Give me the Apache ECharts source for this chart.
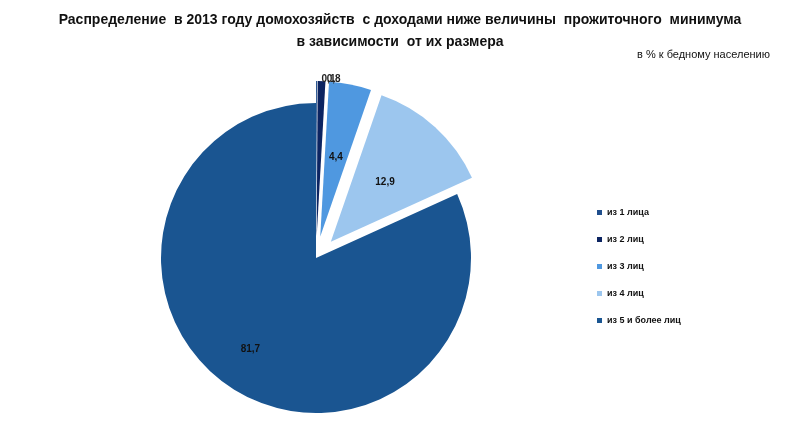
<!DOCTYPE html>
<html lang="ru">
<head>
    <meta charset="UTF-8">
    <title>Распределение домохозяйств</title>
    <script src="https://cdn.jsdelivr.net/npm/echarts@6/dist/echarts.min.js"></script>
    <style>
        body { margin: 0; background: #fff; }
        #chart { width: 800px; height: 422px; }
    </style>
</head>
<body>
    <div id="chart"></div>
    <script>
        const categories = ['из 1 лица', 'из 2 лиц', 'из 3 лиц', 'из 4 лиц', 'из 5 и более лиц'];
        const values = [0.1, 0.8, 4.4, 12.9, 81.7];
        const colors = ['#1f4e8c', '#0c2461', '#4f98e0', '#9cc6ee', '#1a5591'];
        // nudges so the labels sit where the original puts them
        const labelShift = [[-18, -6], [-41, -24], [25, -64], [40, -53], [-22, 24]];

        const chart = echarts.init(document.getElementById('chart'));
        const fmt = v => String(v).replace('.', ',');

        const data = values.map((v, i) => {
            const item = {
                name: categories[i], value: v,
                itemStyle: { color: colors[i] },
                label: { offset: labelShift[i] }
            };
            if (i < 4) item.selected = true;
            if (i < 2) {
                item.label.position = 'outside';
                item.label.color = '#222';
                item.labelLine = { show: false, length: 2, length2: 0 };
            }
            return item;
        });

        chart.setOption({
            title: [
                {
                    text: 'Распределение  в 2013 году домохозяйств  с доходами ниже величины  прожиточного  минимума\nв зависимости  от их размера',
                    left: 'center', top: 4,
                    textStyle: { fontFamily: 'Liberation Sans', fontSize: 14, fontWeight: 'bold', color: '#111', lineHeight: 22, align: 'center' }
                },
                {
                    text: 'в % к бедному населению',
                    right: 25, top: 44,
                    textStyle: { fontFamily: 'Liberation Sans', fontSize: 11, fontWeight: 'normal', color: '#111' }
                }
            ],
            legend: {
                orient: 'vertical',
                left: 592, top: 203,
                itemGap: 18,
                itemWidth: 5, itemHeight: 5,
                icon: 'rect',
                textStyle: { fontFamily: 'Liberation Sans', fontSize: 9, fontWeight: 'bold', color: '#111' },
                data: categories
            },
            series: [{
                type: 'pie',
                center: [316, 258],
                radius: [0, 155],
                startAngle: 90,
                selectedMode: 'multiple',
                selectedOffset: 22,
                animation: false,
                label: {
                    show: true,
                    position: 'inside',
                    formatter: p => fmt(p.value),
                    fontFamily: 'Liberation Sans',
                    fontSize: 10,
                    fontWeight: 'bold',
                    color: '#111'
                },
                emphasis: { disabled: true },
                data: data
            }]
        });
    </script>
</body>
</html>
